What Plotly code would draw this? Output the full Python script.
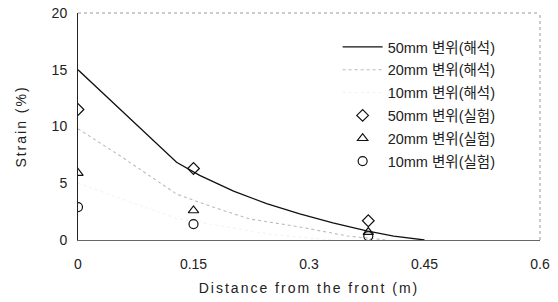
import plotly.graph_objects as go

# Analysis curves (해석)
x_an50 = [0, 0.128, 0.158, 0.202, 0.245, 0.288, 0.331, 0.375, 0.41, 0.45]
y_an50 = [15.0, 6.85, 5.7, 4.3, 3.2, 2.3, 1.5, 0.8, 0.35, 0.0]
x_an20 = [0, 0.055, 0.128, 0.171, 0.223, 0.288, 0.35, 0.40]
y_an20 = [9.8, 7.4, 4.05, 3.0, 1.85, 1.15, 0.35, 0.0]
x_an10 = [0, 0.128, 0.25, 0.33]
y_an10 = [5.0, 1.9, 0.5, 0.0]

# Experiments (실험)
x_exp = [0, 0.15, 0.377]
y_exp50 = [11.5, 6.3, 1.7]
y_exp20 = [5.9, 2.6, 0.7]
y_exp10 = [2.9, 1.4, 0.35]

names = ["50mm 변위(해석)", "20mm 변위(해석)", "10mm 변위(해석)",
         "50mm 변위(실험)", "20mm 변위(실험)", "10mm 변위(실험)"]

x_ticks = [0, 0.15, 0.3, 0.45, 0.6]
x_ticklabels = ["0", "0.15", "0.3", "0.45", "0.6"]
y_ticks = [0, 5, 10, 15, 20]

FONT = "Liberation Sans, Noto Sans CJK KR, sans-serif"

fig = go.Figure()
fig.add_trace(go.Scatter(x=x_an50, y=y_an50, mode="lines", name=names[0],
                         legendgroup="a50",
                         line=dict(color="#111111", width=1.3)))
fig.add_trace(go.Scatter(x=x_an20, y=y_an20, mode="lines", name=names[1],
                         legendgroup="a20",
                         line=dict(color="#bbbbbb", width=1.1, dash="dot")))
fig.add_trace(go.Scatter(x=x_an10, y=y_an10, mode="lines", name=names[2],
                         legendgroup="a10",
                         line=dict(color="#f2f2f2", width=1, dash="dot")))
mk = dict(color="#111111", size=9, line=dict(color="#111111", width=1.2))
fig.add_trace(go.Scatter(x=x_exp, y=y_exp50, mode="markers", name=names[3],
                         legendgroup="e50",
                         marker=dict(symbol="diamond-open", **mk)))
fig.add_trace(go.Scatter(x=x_exp, y=y_exp20, mode="markers", name=names[4],
                         legendgroup="e20",
                         marker=dict(symbol="triangle-up-open", **mk)))
fig.add_trace(go.Scatter(x=x_exp, y=y_exp10, mode="markers", name=names[5],
                         legendgroup="e10",
                         marker=dict(symbol="circle-open", **mk)))

fig.update_layout(
    width=558, height=302,
    margin=dict(l=78, r=18, t=13, b=62),
    paper_bgcolor="white", plot_bgcolor="white",
    font=dict(family=FONT, size=14, color="#222222"),
    showlegend=True,
    legend=dict(x=0.562, y=0.921, xanchor="left", yanchor="top",
                bgcolor="rgba(0,0,0,0)", font=dict(size=14.5, family=FONT),
                itemwidth=40, tracegroupgap=1),
    xaxis=dict(range=[0, 0.6], tickvals=x_ticks, ticktext=x_ticklabels,
               showgrid=False, zeroline=False, showline=True,
               linecolor="#666666", linewidth=1, ticks="",
               ticklabelstandoff=11, automargin=False,
               tickfont=dict(size=14),
               title=dict(text="Distance from the front (m)", standoff=12,
                          font=dict(size=14))),
    yaxis=dict(range=[0, 20], tickvals=y_ticks,
               showgrid=False, zeroline=False, showline=True,
               linecolor="#222222", linewidth=1, ticks="",
               ticklabelstandoff=7, automargin=False,
               tickfont=dict(size=14),
               title=dict(text="Strain (%)", standoff=21, font=dict(size=14))),
    shapes=[
        dict(type="line", xref="paper", yref="paper", x0=0, x1=1, y0=1, y1=1,
             line=dict(color="#999999", width=1, dash="dot")),
        dict(type="line", xref="paper", yref="paper", x0=1, x1=1, y0=0, y1=1,
             line=dict(color="#999999", width=1, dash="dot")),
    ],
)

post = ("document.body.style.margin='0';"
        "var s=document.createElement('style');"
        "s.textContent='.xtitle,.ytitle{letter-spacing:2px}';"
        "document.head.appendChild(s);")

fig.write_html("out.html", post_script=post, config={"displayModeBar": False})
